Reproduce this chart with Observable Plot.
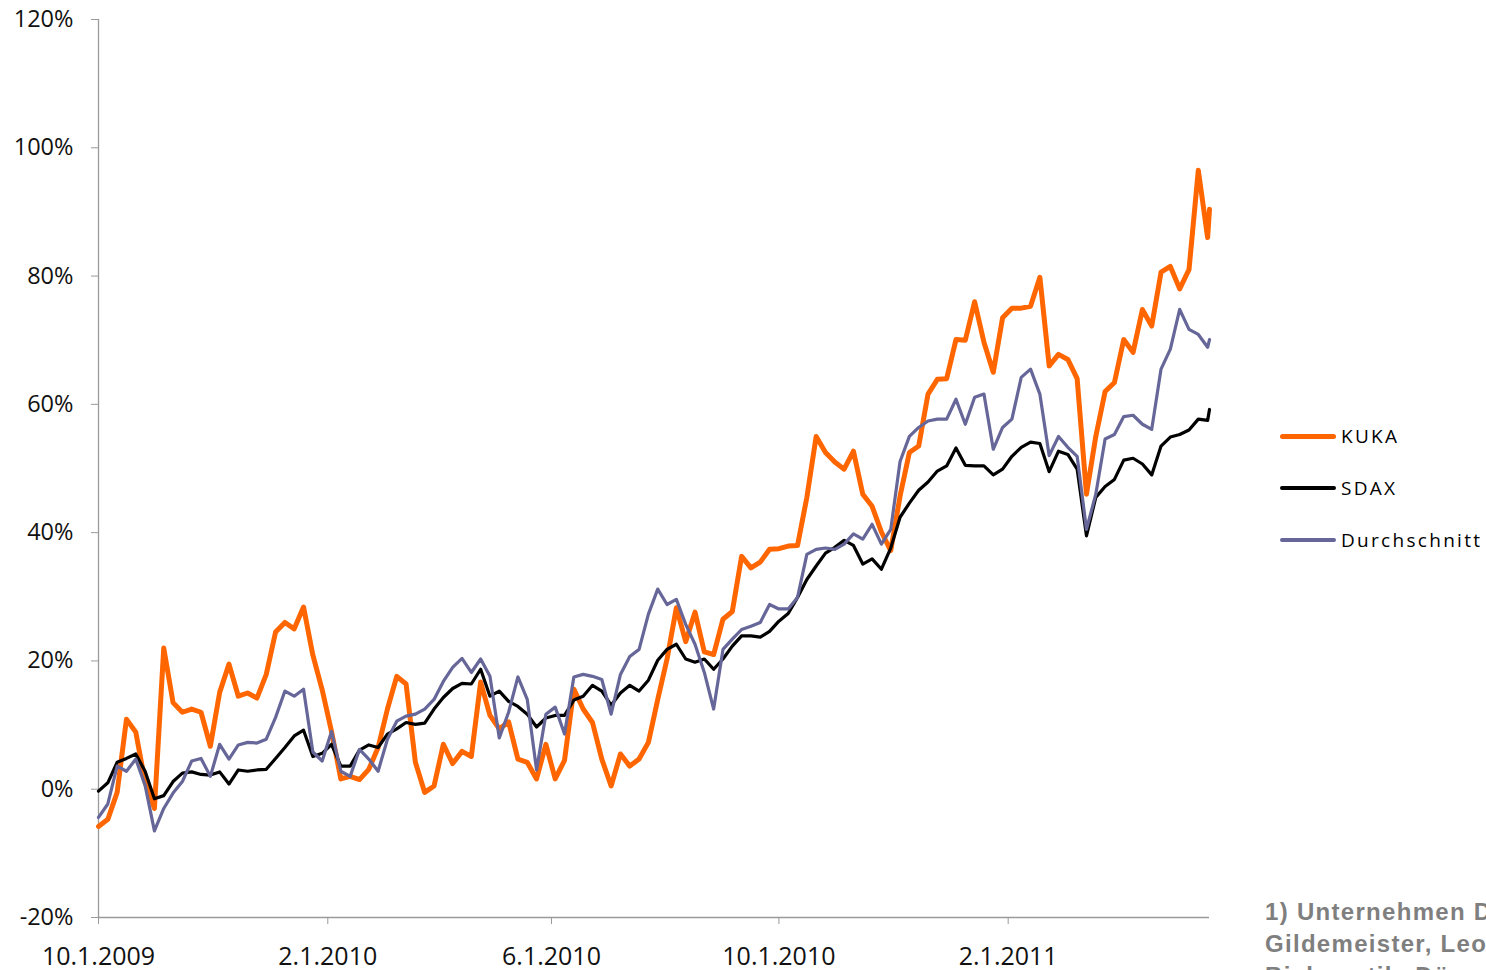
<!DOCTYPE html>
<html>
<head>
<meta charset="utf-8">
<script src="https://cdn.jsdelivr.net/npm/d3@7"></script>
<script src="https://cdn.jsdelivr.net/npm/@observablehq/plot@0.6"></script>
<style>
  html, body { margin: 0; padding: 0; background: #fff; }
  body { width: 1486px; height: 970px; overflow: hidden; position: relative; font-family: "Open Sans", sans-serif; }
  #chart { position: absolute; left: 0; top: 0; }
  .leg { position: absolute; left: 1280px; height: 20px; display: flex; align-items: center; white-space: nowrap; }
  .leg .sw { width: 56px; border-radius: 3px; margin-right: 5px; }
  .leg .tx { font-size: 19px; letter-spacing: 2.3px; color: #000; }
  #note { position: absolute; left: 1265px; top: 896px; font-family: "Liberation Sans", Arial, sans-serif; font-weight: bold; font-size: 24px; letter-spacing: 1.3px; line-height: 32px; color: #7f7f7f; white-space: nowrap; }
</style>
</head>
<body>
<div id="chart"></div>
<div id="legend"></div>
<div id="note">1) Unternehmen Durchschnitt:<br>Gildemeister, Leoni,<br>Bielomatik, Dürr</div>
<script>
const dates = [
"2009-10-01","2009-10-06","2009-10-11","2009-10-16","2009-10-21","2009-10-26","2009-10-31","2009-11-05","2009-11-10","2009-11-15",
"2009-11-20","2009-11-25","2009-11-30","2009-12-05","2009-12-10","2009-12-15","2009-12-20","2009-12-25","2009-12-30","2010-01-04",
"2010-01-09","2010-01-14","2010-01-19","2010-01-24","2010-01-29","2010-02-03","2010-02-08","2010-02-13","2010-02-18","2010-02-23",
"2010-02-28","2010-03-05","2010-03-10","2010-03-15","2010-03-20","2010-03-25","2010-03-30","2010-04-04","2010-04-09","2010-04-14",
"2010-04-19","2010-04-24","2010-04-29","2010-05-04","2010-05-09","2010-05-14","2010-05-19","2010-05-24","2010-05-29","2010-06-03",
"2010-06-08","2010-06-13","2010-06-18","2010-06-23","2010-06-28","2010-07-03","2010-07-08","2010-07-13","2010-07-18","2010-07-23",
"2010-07-28","2010-08-02","2010-08-07","2010-08-12","2010-08-17","2010-08-22","2010-08-27","2010-09-01","2010-09-06","2010-09-11",
"2010-09-16","2010-09-21","2010-09-26","2010-10-01","2010-10-06","2010-10-11","2010-10-16","2010-10-21","2010-10-26","2010-10-31",
"2010-11-05","2010-11-10","2010-11-15","2010-11-20","2010-11-25","2010-11-30","2010-12-05","2010-12-10","2010-12-15","2010-12-20",
"2010-12-25","2010-12-30","2011-01-04","2011-01-09","2011-01-14","2011-01-19","2011-01-24","2011-01-29","2011-02-03","2011-02-08",
"2011-02-13","2011-02-18","2011-02-23","2011-02-28","2011-03-05","2011-03-10","2011-03-15","2011-03-20","2011-03-25","2011-03-30",
"2011-04-04","2011-04-09","2011-04-14","2011-04-19","2011-04-24","2011-04-29","2011-05-04","2011-05-09","2011-05-14","2011-05-19",
"2011-05-20"
];

const kuka = [
-5.8,-4.7,-0.5,10.9,8.9,1.1,-3.0,22.0,13.5,12.0,
12.5,12.0,6.7,15.1,19.5,14.5,15.0,14.2,17.9,24.5,
26.0,25.0,28.4,20.9,15.5,9.0,1.6,2.0,1.5,3.1,
6.5,12.5,17.6,16.4,4.2,-0.5,0.5,7.0,4.0,5.9,
5.1,16.7,11.5,9.4,10.5,4.7,4.2,1.6,7.0,1.6,
4.5,15.6,12.5,10.4,4.7,0.5,5.5,3.6,4.7,7.3,
14.0,20.3,28.3,23.0,27.6,21.4,21.0,26.5,27.7,36.3,
34.5,35.4,37.4,37.5,37.9,38.0,45.5,55.0,52.5,51.0,
49.9,52.7,46.0,44.1,40.1,37.2,45.7,52.5,53.5,61.6,
63.9,64.0,70.1,70.0,76.0,69.7,65.0,73.5,75.0,75.0,
75.3,79.8,66.0,67.8,67.0,64.0,46.0,55.0,62.0,63.4,
70.1,68.1,74.8,72.2,80.6,81.5,78.0,81.0,96.5,86.0,
90.4
];

const sdax = [
-0.3,1.0,4.2,4.8,5.5,2.8,-1.5,-1.0,1.2,2.5,
2.7,2.3,2.2,2.7,0.8,3.0,2.8,3.0,3.1,4.8,
6.5,8.3,9.2,5.1,5.6,7.0,3.6,3.6,6.1,6.9,
6.5,8.6,9.4,10.4,10.1,10.3,12.5,14.3,15.7,16.5,
16.4,18.7,14.5,15.3,13.7,12.9,11.7,9.7,11.1,11.5,
11.5,13.9,14.5,16.2,15.3,13.1,15.0,16.2,15.3,17.0,
20.1,21.8,22.6,20.3,19.8,20.3,18.7,20.3,22.3,23.9,
23.9,23.7,24.6,26.2,27.4,29.9,32.7,34.8,36.8,37.7,
38.8,38.0,35.1,35.9,34.3,37.6,42.4,44.6,46.6,47.9,
49.6,50.4,53.2,50.5,50.4,50.4,49.0,49.9,51.9,53.3,
54.1,53.9,49.5,52.7,52.2,49.9,39.5,45.5,47.2,48.3,
51.3,51.6,50.7,49.0,53.5,54.9,55.3,56.0,57.7,57.5,
59.2
];

const durchschnitt = [
-4.4,-2.3,3.6,2.8,4.7,0.6,-6.5,-3.0,-0.6,1.2,
4.4,4.8,2.0,7.0,4.7,6.9,7.3,7.2,7.8,11.2,
15.3,14.5,15.6,5.8,4.4,9.0,2.8,2.0,6.2,4.7,
2.8,7.8,10.6,11.4,11.7,12.5,14.0,16.8,19.0,20.4,
18.2,20.3,17.6,8.0,12.0,17.5,14.0,3.0,11.7,12.8,
8.6,17.5,17.9,17.6,17.1,11.7,17.9,20.7,21.8,27.3,
31.2,28.8,29.6,25.7,22.6,18.2,12.5,21.8,23.4,24.9,
25.4,26.0,28.8,28.1,28.1,29.9,36.6,37.4,37.6,37.4,
38.2,39.8,39.0,41.3,38.2,40.5,51.1,55.0,56.4,57.4,
57.7,57.7,60.8,56.9,61.1,61.6,53.0,56.4,57.7,64.2,
65.5,61.6,52.0,55.0,53.3,51.9,40.5,46.0,54.6,55.3,
58.1,58.3,56.9,56.1,65.5,68.6,74.8,71.7,70.9,68.9,
70.1
];

const seriesNames = ["KUKA", "SDAX", "Durchschnitt"];
const seriesColors = ["#FF6600", "#000000", "#666699"];
const seriesWidths = [5, 3.2, 3.2];
const yTicks = [-20, 0, 20, 40, 60, 80, 100, 120];
const xTickDates = ["2009-10-01", "2010-02-01", "2010-06-01", "2010-10-01", "2011-02-01"];
const xDomain = ["2009-10-01", "2011-05-20"];

const parse = d3.utcParse("%Y-%m-%d");
const seriesValues = [kuka, sdax, durchschnitt];
const rows = seriesNames.map((name, s) =>
  dates.map((d, i) => ({series: name, date: parse(d), value: seriesValues[s][i]}))
);
const fmtDate = d => `${d.getUTCMonth() + 1}.${d.getUTCDate()}.${d.getUTCFullYear()}`;
const x0 = parse(xDomain[0]);

const chart = Plot.plot({
  width: 1486,
  height: 970,
  marginLeft: 98,
  marginRight: 277,
  marginTop: 19,
  marginBottom: 53,
  style: {fontFamily: "'Open Sans', sans-serif", background: "#fff", overflow: "visible"},
  x: {type: "utc", domain: xDomain.map(parse), label: null},
  y: {domain: [-20, 120], label: null},
  marks: [
    Plot.ruleX([x0], {y1: -20, y2: 120, stroke: "#9a9a9a", strokeWidth: 1.3}),
    Plot.ruleY([-20], {stroke: "#9a9a9a", strokeWidth: 1.3}),
    Plot.axisY({ticks: yTicks, tickSize: 7, tickPadding: 18, tickFormat: d => d + "%", fontSize: 23.5, stroke: "#9a9a9a", fill: "#111", label: null}),
    Plot.axisX({ticks: xTickDates.map(parse), tickSize: 7, tickPadding: 23, tickFormat: fmtDate, fontSize: 25, stroke: "#9a9a9a", fill: "#111", label: null}),
    ...rows.map((data, s) => Plot.line(data, {
      x: "date", y: "value",
      stroke: seriesColors[s], strokeWidth: seriesWidths[s],
      strokeLinejoin: "round", strokeLinecap: "round"
    }))
  ]
});
document.getElementById("chart").appendChild(chart);

const legend = document.getElementById("legend");
const legendTops = [426, 478, 530];
seriesNames.forEach((name, s) => {
  const item = document.createElement("div");
  item.className = "leg";
  item.style.top = legendTops[s] + "px";
  const sw = document.createElement("div");
  sw.className = "sw";
  sw.style.height = seriesWidths[s] + "px";
  sw.style.background = seriesColors[s];
  const tx = document.createElement("span");
  tx.className = "tx";
  tx.textContent = name;
  item.appendChild(sw);
  item.appendChild(tx);
  legend.appendChild(item);
});
</script>
</body>
</html>
